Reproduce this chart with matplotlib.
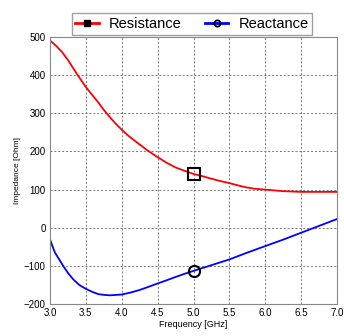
import numpy as np
import matplotlib
matplotlib.use("Agg")
import matplotlib.pyplot as plt
from matplotlib.lines import Line2D

plt.rcParams["font.family"] = ["Liberation Sans", "DejaVu Sans"]

# resistance curve
freq_r = [3.0, 3.08, 3.167, 3.25, 3.353, 3.42, 3.5, 3.59, 3.676, 3.746, 3.83, 3.91, 4.0,
          4.1, 4.21, 4.35, 4.5, 4.62, 4.75, 4.88, 5.0, 5.11, 5.22, 5.36, 5.5, 5.62, 5.73,
          5.86, 6.0, 6.12, 6.24, 6.37, 6.5, 6.75, 7.0]
resistance = [491, 478, 461, 440, 410, 391, 369, 348, 328, 310, 291, 274, 257,
              240, 224, 204, 185, 171, 158, 149, 141, 136, 130, 123, 117, 111, 106,
              102, 100, 98, 96, 95, 94, 94, 94]

# reactance curve
freq_x = [3.0, 3.035, 3.07, 3.13, 3.185, 3.25, 3.324, 3.41, 3.5, 3.59, 3.676, 3.76, 3.84,
          3.92, 4.0, 4.12, 4.25, 4.37, 4.5, 4.62, 4.75, 4.87, 5.0, 5.25, 5.5, 5.75, 6.0,
          6.25, 6.5, 6.75, 7.0]
reactance = [-29, -48, -65, -83, -100, -118, -135, -150, -160, -168, -174, -176, -177,
             -176, -175, -170, -163, -155, -146, -138, -129, -121, -113, -98, -83, -65, -48,
             -31, -13, 5, 23]

mark_f = 5.0
mark_r = 140
mark_x = -113

fig = plt.figure(figsize=(3.44, 3.36), dpi=100)
ax = fig.add_axes([0.145, 0.095, 0.835, 0.795])

ax.plot(freq_r, resistance, color="red", lw=1.3)
ax.plot(freq_x, reactance, color="blue", lw=1.3)
ax.plot([mark_f], [mark_r], marker="s", ms=8, mfc="none", mec="black", mew=1.5, ls="none")
ax.plot([mark_f], [mark_x], marker="o", ms=8, mfc="none", mec="black", mew=1.5, ls="none")

ax.set_xlim(3.0, 7.0)
ax.set_ylim(-200, 500)
ax.set_xticks(np.arange(3.0, 7.01, 0.5))
ax.set_xticklabels([f"{v:.1f}" for v in np.arange(3.0, 7.01, 0.5)])
ax.set_yticks(range(-200, 501, 100))
ax.tick_params(length=0, labelsize=7, pad=3)
ax.grid(True, ls=(0, (2, 2)), color="#777777", lw=0.7)
for s in ax.spines.values():
    s.set_color("#888888")
ax.set_xlabel("Frequency [GHz]", fontsize=6.5, labelpad=1)
ax.set_ylabel("Impedance [Ohm]", fontsize=6, labelpad=2)

handles = [
    Line2D([], [], color="red", lw=2, marker="s", ms=4, mfc="black", mec="black"),
    Line2D([], [], color="blue", lw=2, marker="o", ms=4.5, mfc="none", mec="black", mew=1.3),
]
fig.legend(handles, ["Resistance", "Reactance"], loc="upper center",
           bbox_to_anchor=(0.558, 0.982), ncol=2, fontsize=10.5, frameon=True,
           fancybox=False, edgecolor="#888888", handlelength=1.6,
           borderpad=0.25, columnspacing=1.6, handletextpad=0.7)

fig.savefig("out.png", dpi=100)
